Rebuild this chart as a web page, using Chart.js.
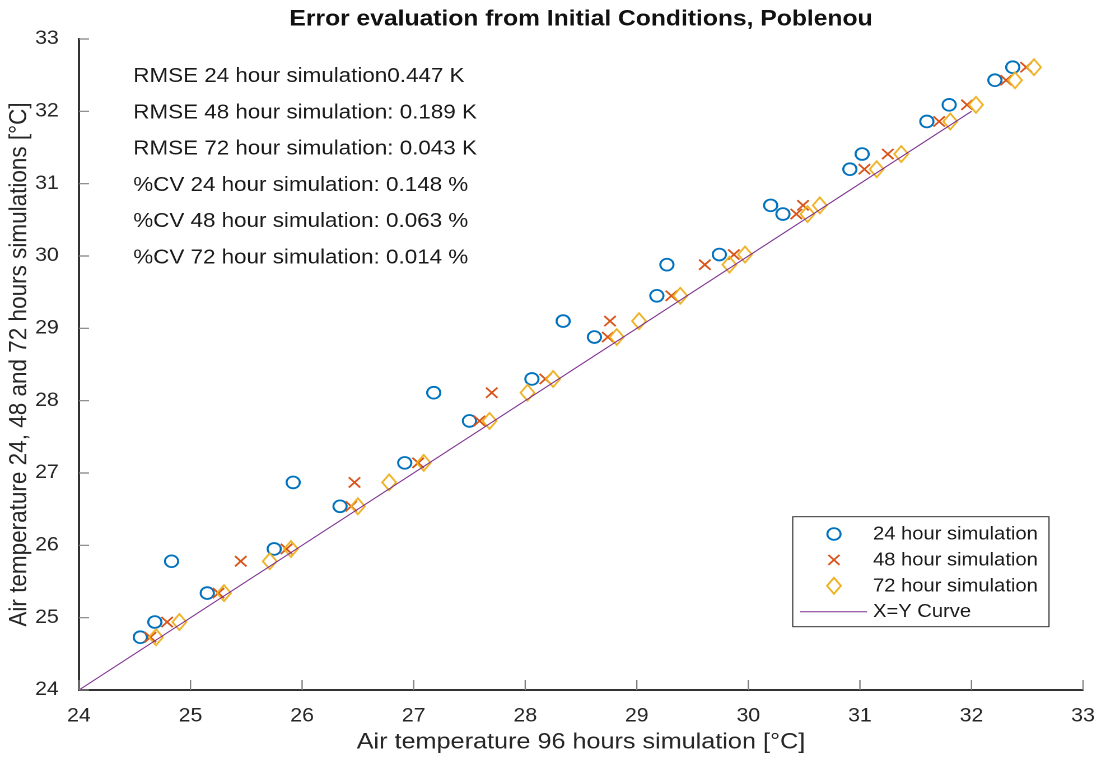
<!DOCTYPE html>
<html>
<head>
  <meta charset="utf-8" />
  <script src="https://cdn.jsdelivr.net/npm/chart.js@4.4.1/dist/chart.umd.min.js"></script>
  <style>
    body { margin: 0; background: #fff; overflow: hidden; }
    /* the reference is slightly stretched sideways, so draw narrower and widen */
    #wrap { width: 987px; height: 758px; transform: scaleX(1.12); transform-origin: 0 0; }
  </style>
</head>
<body>
<div id="wrap"><canvas id="chart" width="987" height="758"></canvas></div>

<script>
/* ---------- Data ---------- */
const yVals = [24.73, 24.94, 25.34, 25.78, 25.95, 26.54, 26.87, 27.14, 27.72, 28.11, 28.30, 28.88,
               29.10, 29.45, 29.88, 30.02, 30.58, 30.70, 31.20, 31.41, 31.86, 32.09, 32.43, 32.61];
const x24 = [24.55, 24.68, 25.15, 24.83, 25.75, 26.34, 25.92, 26.92, 27.50, 27.18, 28.06, 28.62,
             28.34, 29.18, 29.27, 29.74, 30.31, 30.20, 30.91, 31.02, 31.60, 31.80, 32.21, 32.37];
const x48 = [24.64, 24.79, 25.25, 25.45, 25.86, 26.44, 26.47, 27.04, 27.59, 27.70, 28.18, 28.74,
             28.76, 29.31, 29.61, 29.87, 30.43, 30.49, 31.04, 31.25, 31.71, 31.96, 32.31, 32.49];
const x72 = [24.69, 24.90, 25.30, 25.71, 25.90, 26.50, 26.78, 27.09, 27.68, 28.02, 28.25, 28.82,
             29.02, 29.39, 29.83, 29.97, 30.53, 30.64, 31.15, 31.37, 31.81, 32.04, 32.39, 32.56];
const lineX = [24, 32];
const lineY = [24, 32];

const seriesNames = ['24 hour simulation', '48 hour simulation', '72 hour simulation', 'X=Y Curve'];
const statsLines = [
  'RMSE 24 hour simulation0.447 K',
  'RMSE 48 hour simulation: 0.189 K',
  'RMSE 72 hour simulation: 0.043 K',
  '%CV 24 hour simulation: 0.148 %',
  '%CV 48 hour simulation: 0.063 %',
  '%CV 72 hour simulation: 0.014 %'
];
const titleText = 'Error evaluation from Initial Conditions, Poblenou';
const xTitle = 'Air temperature 96 hours simulation [°C]';
const yTitle = 'Air temperature 24, 48 and 72 hours simulations [°C]';

/* ---------- Style ---------- */
const FONT = '"Liberation Sans", Arial, Helvetica, sans-serif';
const C24 = '#0072BD', C48 = '#D95319', C72 = '#EDB120', CXY = '#7E2F8E';
const TXT = '#262626';
const DIA_W = 6.2, DIA_H = 8, DIA_LW = 1.7;
const CIRC_R = 5.9, CIRC_LW = 1.8;

let chart = null;

function diamondPath(ctx, cx, cy) {
  ctx.beginPath();
  ctx.moveTo(cx, cy - DIA_H);
  ctx.lineTo(cx + DIA_W, cy);
  ctx.lineTo(cx, cy + DIA_H);
  ctx.lineTo(cx - DIA_W, cy);
  ctx.closePath();
}

// diamond marker as a high-res image, drawn at its css size by Chart.js
function makeDiamond() {
  const k = 4;
  const W = Math.ceil(2 * DIA_W + DIA_LW + 2), H = Math.ceil(2 * DIA_H + DIA_LW + 2);
  const c = document.createElement('canvas');
  c.width = W * k; c.height = H * k;
  const g = c.getContext('2d');
  g.scale(k, k);
  g.strokeStyle = C72; g.lineWidth = DIA_LW; g.lineJoin = 'miter';
  diamondPath(g, W / 2, H / 2);
  g.stroke();
  const img = new Image(W, H);
  img.onload = () => { if (chart) chart.draw(); };
  img.src = c.toDataURL();
  return img;
}
const diamondImg = makeDiamond();

const pts = xs => xs.map((v, i) => ({ x: v, y: yVals[i] }));

/* ---------- Extras: inward ticks, title, stats text, legend ---------- */
const decor = {
  id: 'decor',
  afterDraw(c) {
    const { ctx, chartArea: a, scales: { x, y } } = c;
    ctx.save();

    ctx.strokeStyle = '#808080'; ctx.lineWidth = 1.2;
    ctx.beginPath();
    x.ticks.forEach(t => {
      const px = x.getPixelForValue(t.value);
      ctx.moveTo(px, a.bottom); ctx.lineTo(px, a.bottom - 10);
    });
    y.ticks.forEach(t => {
      const py = y.getPixelForValue(t.value);
      ctx.moveTo(a.left, py); ctx.lineTo(a.left + 9, py);
    });
    ctx.stroke();

    ctx.fillStyle = '#111';
    ctx.font = 'bold 22px ' + FONT;
    ctx.textAlign = 'center'; ctx.textBaseline = 'middle';
    ctx.fillText(titleText, (a.left + a.right) / 2, 19.5);

    ctx.fillStyle = '#1a1a1a';
    ctx.font = '20px ' + FONT;
    ctx.textAlign = 'left';
    statsLines.forEach((s, i) => ctx.fillText(s, 119, 76.5 + i * 36.3));

    // legend box
    const bx = 707.8, by = 516.7, bw = 228.8, bh = 110;
    ctx.fillStyle = '#fff';
    ctx.fillRect(bx, by, bw, bh);
    ctx.strokeStyle = '#333'; ctx.lineWidth = 1;
    ctx.strokeRect(bx, by, bw, bh);

    const mx = 744.6;
    c.data.datasets.forEach((ds, i) => {
      const ly = 534 + i * 25.9;
      if (i === 0) {
        ctx.strokeStyle = C24; ctx.lineWidth = CIRC_LW;
        ctx.beginPath(); ctx.arc(mx, ly, CIRC_R, 0, Math.PI * 2); ctx.stroke();
      } else if (i === 1) {
        const d = 7 * Math.SQRT1_2;
        ctx.strokeStyle = C48; ctx.lineWidth = 1.7;
        ctx.beginPath();
        ctx.moveTo(mx - d, ly - d); ctx.lineTo(mx + d, ly + d);
        ctx.moveTo(mx - d, ly + d); ctx.lineTo(mx + d, ly - d);
        ctx.stroke();
      } else if (i === 2) {
        ctx.strokeStyle = C72; ctx.lineWidth = DIA_LW;
        diamondPath(ctx, mx, ly); ctx.stroke();
      } else {
        ctx.strokeStyle = CXY; ctx.lineWidth = 1;
        ctx.beginPath(); ctx.moveTo(714.3, ly); ctx.lineTo(774.1, ly); ctx.stroke();
      }
      ctx.fillStyle = '#1a1a1a';
      ctx.font = '18px ' + FONT;
      ctx.textAlign = 'left'; ctx.textBaseline = 'middle';
      ctx.fillText(ds.label, 779.5, ly + 0.5);
    });

    ctx.restore();
  }
};

/* ---------- Chart ---------- */
Chart.defaults.font.family = FONT;

const axisBase = (title, fitFn, titlePad, tickPad) => ({
  type: 'linear', min: 24, max: 33,
  ticks: { stepSize: 1, color: TXT, font: { size: 19 }, padding: tickPad },
  grid: { display: false },
  border: { display: true, color: '#333', width: 2 },
  title: { display: true, text: title, color: TXT, font: { size: 22.5 }, padding: titlePad },
  afterFit: fitFn
});

chart = new Chart(document.getElementById('chart').getContext('2d'), {
  type: 'scatter',
  data: {
    datasets: [
      { label: seriesNames[0], data: pts(x24), pointStyle: 'circle', pointRadius: CIRC_R, pointHoverRadius: CIRC_R,
        pointBorderWidth: CIRC_LW, pointBorderColor: C24, pointBackgroundColor: 'rgba(0,0,0,0)', order: 3 },
      { label: seriesNames[1], data: pts(x48), pointStyle: 'crossRot', pointRadius: 7.2, pointHoverRadius: 7.2,
        pointBorderWidth: 1.7, pointBorderColor: C48, pointBackgroundColor: 'rgba(0,0,0,0)', order: 2 },
      { label: seriesNames[2], data: pts(x72), pointStyle: diamondImg, pointRadius: 8, pointHoverRadius: 8,
        pointBorderColor: C72, order: 1 },
      { label: seriesNames[3], type: 'line', data: lineX.map((v, i) => ({ x: v, y: lineY[i] })),
        borderColor: CXY, borderWidth: 1, pointRadius: 0, showLine: true, fill: false, order: 0 }
    ]
  },
  options: {
    responsive: false,
    animation: false,
    devicePixelRatio: 2,
    events: [],
    layout: { padding: { top: 39, right: 20, left: 0, bottom: 0 } },
    plugins: { legend: { display: false }, tooltip: { enabled: false }, title: { display: false } },
    scales: {
      x: axisBase(xTitle, s => { s.height = 68; }, { top: 0, bottom: 2 }, 7),
      y: axisBase(yTitle, s => { s.width = 70.5; }, { top: 4, bottom: 0 }, 10)
    }
  },
  plugins: [decor]
});
</script>
</body>
</html>
